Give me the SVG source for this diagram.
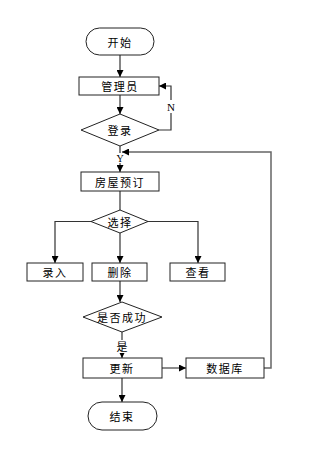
<svg xmlns="http://www.w3.org/2000/svg" width="309" height="454" viewBox="0 0 309 454">
<style>
.n{fill:#fff;stroke:#222;stroke-width:1}
.t{font-family:"Noto Sans CJK SC","Liberation Sans",sans-serif;font-size:11px;fill:#000;text-anchor:middle;dominant-baseline:central;letter-spacing:1.5px}
.l{font-family:"Liberation Serif","Noto Sans CJK SC",serif;font-size:11px;fill:#000;text-anchor:middle;dominant-baseline:central}
.c{fill:none;stroke:#333;stroke-width:1.2}
.g{fill:none;stroke:#666;stroke-width:1.5}
.w{fill:#fff}
</style>
<defs>
<marker id="a" viewBox="0 0 10 10" refX="10" refY="5" markerWidth="7" markerHeight="7" markerUnits="userSpaceOnUse" orient="auto"><path d="M0,0L10,5L0,10z" fill="#000"/></marker>
</defs>
<rect width="309" height="454" fill="#fff"/>
<g id="connectors">
<path class="c" d="M120,55V77" marker-end="url(#a)"/>
<path class="c" d="M120,95V114" marker-end="url(#a)"/>
<path class="c" d="M159,130H171V86H159" marker-end="url(#a)"/>
<path class="c" d="M120,146V172" marker-end="url(#a)"/>
<path class="c" d="M120,191V210"/>
<path class="c" d="M91,221.5H55V263" marker-end="url(#a)"/>
<path class="c" d="M120,233V263" marker-end="url(#a)"/>
<path class="c" d="M148,221.5H198V263" marker-end="url(#a)"/>
<path class="c" d="M120,281V302" marker-end="url(#a)"/>
<path class="c" d="M122,332V358" marker-end="url(#a)"/>
<path class="g" d="M162,368H186" marker-end="url(#a)"/>
<path class="g" d="M264,368H271V152H122" marker-end="url(#a)"/>
<path class="c" d="M122,378V402" marker-end="url(#a)"/>
<rect class="w" x="166" y="100" width="10" height="13"/>
<text class="l" x="171" y="107">N</text>
<rect class="w" x="116" y="153" width="8" height="10"/>
<text class="l" x="120" y="158" style="font-size:10px">Y</text>
<rect class="w" x="116" y="340" width="12" height="13"/>
<text class="t" x="122" y="346" style="letter-spacing:0">是</text>
</g>
<g id="start"><rect class="n" x="86" y="28" width="68" height="27" rx="13.5"/><text class="t" x="120" y="42">开始</text></g>
<g id="admin"><rect class="n" x="79" y="77" width="80" height="18"/><text class="t" x="120" y="86">管理员</text></g>
<g id="login"><path class="n" d="M120,114L159,130L120,146L81,130z"/><text class="t" x="120" y="130">登录</text></g>
<g id="booking"><rect class="n" x="81" y="172" width="78" height="19"/><text class="t" x="120" y="181.5">房屋预订</text></g>
<g id="select"><path class="n" d="M120,210L148,221.5L120,233L91,221.5z"/><text class="t" x="120" y="221.5">选择</text></g>
<g id="input"><rect class="n" x="27" y="263" width="56" height="18"/><text class="t" x="55" y="272">录入</text></g>
<g id="delete"><rect class="n" x="92" y="263" width="55" height="18"/><text class="t" x="120" y="272">删除</text></g>
<g id="view"><rect class="n" x="170" y="263" width="55" height="18"/><text class="t" x="198" y="272">查看</text></g>
<g id="success"><path class="n" d="M122,302L162,317L122,332L83,317z"/><text class="t" x="122" y="317">是否成功</text></g>
<g id="update"><rect class="n" x="83" y="358" width="79" height="20"/><text class="t" x="122" y="368">更新</text></g>
<g id="database"><rect class="n" x="186" y="358" width="78" height="20"/><text class="t" x="225" y="368">数据库</text></g>
<g id="end"><rect class="n" x="88" y="402" width="69" height="28" rx="14"/><text class="t" x="122" y="416">结束</text></g>
</svg>
